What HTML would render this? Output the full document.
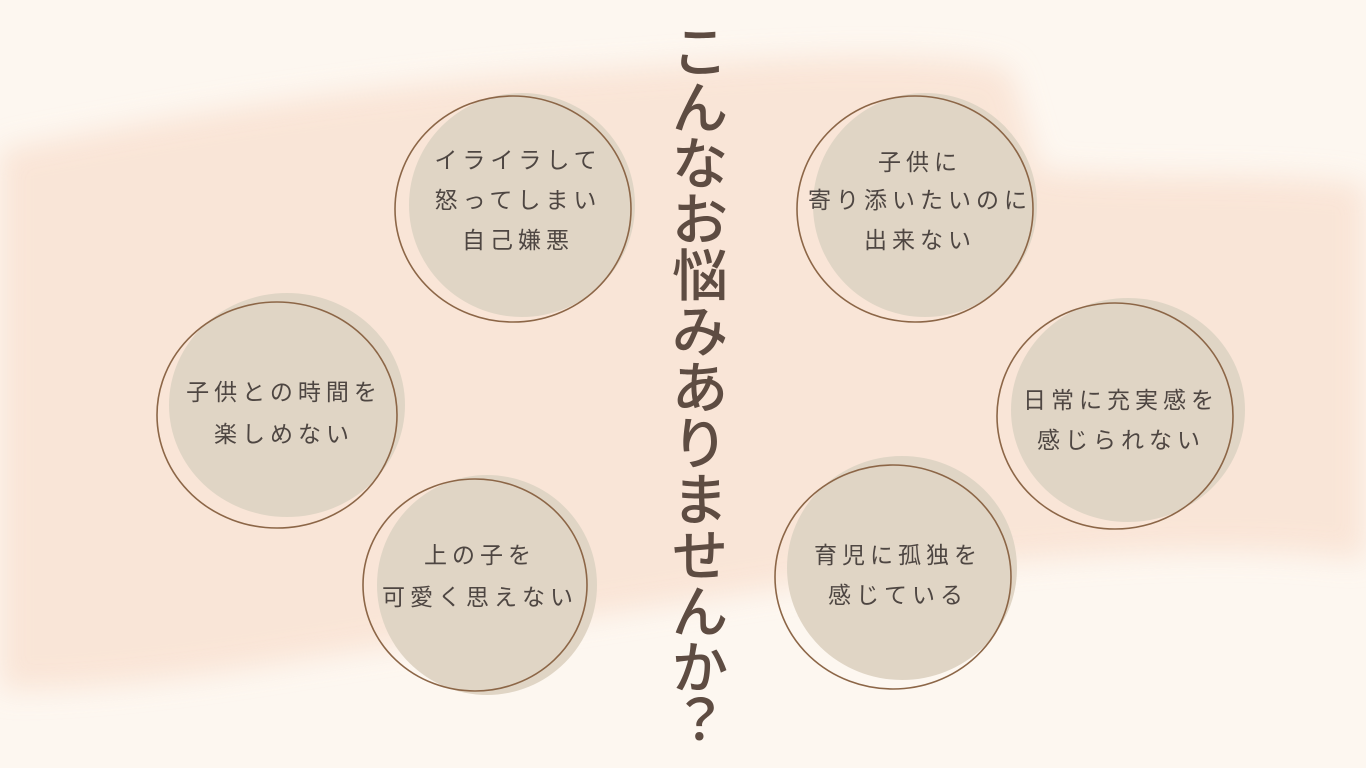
<!DOCTYPE html>
<html><head><meta charset="utf-8"><style>
html,body{margin:0;padding:0;width:1366px;height:768px;overflow:hidden;background:#fdf7f0}
svg{display:block}
text{font-family:"Liberation Sans","Noto Sans CJK JP",sans-serif;fill:#4e4642;font-size:23px;letter-spacing:5px}
.t{font-size:56px;fill:#5e4c42;font-weight:500;letter-spacing:0}
</style></head><body>
<svg width="1366" height="768" viewBox="0 0 1366 768">
<defs><filter id="b"><feGaussianBlur stdDeviation="14"/></filter></defs>
<path d="M0 150 C200 110 400 80 600 70 C800 55 950 50 1010 70 L1040 170 C1150 180 1280 170 1366 185 L1366 560 C1200 540 1050 560 900 570 C700 600 500 630 300 660 C180 680 80 690 0 690 Z" fill="#f9e2d3" filter="url(#b)" opacity="0.85"/>
<g fill="#e0d5c5" stroke="none">
<ellipse cx="522" cy="205" rx="113" ry="112"/>
<ellipse cx="925" cy="205" rx="112" ry="112"/>
<ellipse cx="287" cy="405" rx="118" ry="112"/>
<ellipse cx="1128" cy="410" rx="117" ry="112"/>
<ellipse cx="487" cy="585" rx="110" ry="110"/>
<ellipse cx="902" cy="568" rx="115" ry="112"/>
</g>
<g fill="none" stroke="#8c6647" stroke-width="1.6">
<ellipse cx="513" cy="209" rx="118" ry="113"/>
<ellipse cx="915" cy="209" rx="118" ry="113"/>
<ellipse cx="277" cy="415" rx="120" ry="113"/>
<ellipse cx="1115" cy="416" rx="118" ry="113"/>
<ellipse cx="475" cy="585" rx="112" ry="106"/>
<ellipse cx="893" cy="577" rx="118" ry="112"/>
</g>
<g text-anchor="middle">
<text x="518" y="168">イライラして</text>
<text x="518" y="208">怒ってしまい</text>
<text x="518" y="248">自己嫌悪</text>
<text x="920" y="170">子供に</text>
<text x="920" y="208">寄り添いたいのに</text>
<text x="920" y="248">出来ない</text>
<text x="284" y="400">子供との時間を</text>
<text x="284" y="442">楽しめない</text>
<text x="1121" y="408">日常に充実感を</text>
<text x="1121" y="448">感じられない</text>
<text x="480" y="563">上の子を</text>
<text x="480" y="605">可愛く思えない</text>
<text x="898" y="563">育児に孤独を</text>
<text x="898" y="603">感じている</text>
</g>
<g text-anchor="middle">
<text class="t" x="700" y="72">こ</text>
<text class="t" x="700" y="128">ん</text>
<text class="t" x="700" y="184">な</text>
<text class="t" x="700" y="240">お</text>
<text class="t" x="700" y="296">悩</text>
<text class="t" x="700" y="352">み</text>
<text class="t" x="700" y="408">あ</text>
<text class="t" x="700" y="464">り</text>
<text class="t" x="700" y="520">ま</text>
<text class="t" x="700" y="576">せ</text>
<text class="t" x="700" y="632">ん</text>
<text class="t" x="700" y="688">か</text>
<text class="t" x="700" y="740">？</text>
</g>
</svg>
</body></html>
